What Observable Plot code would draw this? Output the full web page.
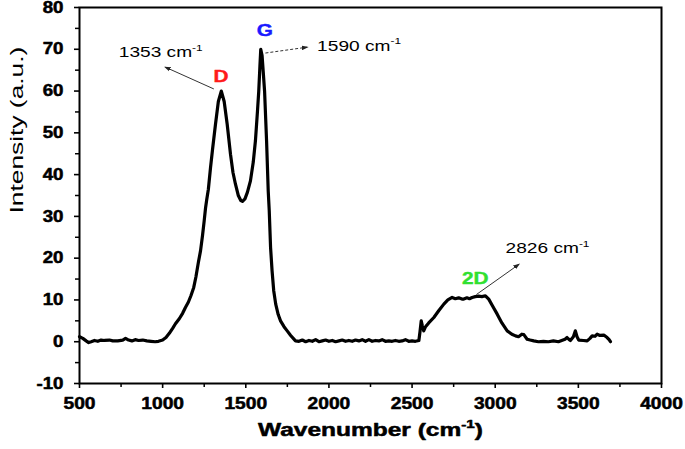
<!DOCTYPE html>
<html><head><meta charset="utf-8">
<script src="https://cdn.jsdelivr.net/npm/d3@7"></script>
<script src="https://cdn.jsdelivr.net/npm/@observablehq/plot@0.6"></script>
<style>body{margin:0;background:#fff}</style>
</head><body><div id="chart"></div>
<script>
// Raman spectrum
const wavenumber = [500,520,540,555,570,590,610,630,650,680,700,730,760,777,795,815,835,855,880,905,930,955,975,1000,1020,1040,1060,1077,1100,1120,1137,1155,1170,1187,1200,1215,1228,1240,1250,1258,1265,1275,1288,1300,1318,1335,1353,1370,1388,1408,1423,1438,1455,1470,1480,1495,1510,1528,1545,1558,1570,1578,1585,1590,1598,1606,1613,1625,1635,1641,1649,1658,1668,1680,1695,1709,1730,1749,1770,1799,1820,1840,1860,1880,1900,1920,1940,1960,1980,2000,2020,2040,2060,2080,2100,2120,2140,2160,2180,2200,2220,2240,2260,2280,2300,2320,2340,2360,2380,2400,2420,2440,2460,2480,2500,2520,2541,2548,2555,2562,2570,2581,2600,2631,2660,2691,2715,2741,2760,2780,2800,2811,2830,2845,2861,2880,2900,2920,2941,2961,2985,3012,3040,3072,3100,3122,3140,3160,3172,3192,3210,3232,3260,3290,3320,3350,3380,3400,3420,3432,3445,3452,3470,3482,3492,3502,3530,3553,3570,3583,3600,3613,3630,3653,3673,3685,3693];
const intensity = [1.2,0.8,0.2,-0.2,0.0,0.3,0.1,0.4,0.3,0.4,0.2,0.2,0.4,0.8,0.4,0.2,0.5,0.3,0.4,0.2,0.1,0.0,0.1,0.4,1.0,2.0,3.2,4.3,5.5,6.8,8.2,9.5,11.0,13.0,15.5,19.0,21.8,25.5,29.0,32.0,34.0,36.5,41.7,46.0,52.1,57.5,60.0,57.5,52.1,44.9,40.5,37.7,35.0,33.8,33.6,34.2,35.8,38.5,43.0,48.1,55.0,60.0,66.0,70.0,68.5,64.0,60.0,48.1,36.0,31.4,22.6,17.0,12.2,9.0,6.5,5.0,3.6,2.6,1.5,0.2,0.1,0.4,0.0,0.3,0.1,0.5,0.0,0.2,0.4,0.1,0.3,0.0,0.2,0.4,0.1,0.3,0.1,0.4,0.2,0.5,0.1,0.5,0.1,0.3,0.2,0.5,0.1,0.2,0.1,0.3,0.1,0.2,0.5,0.1,0.2,0.1,0.3,2.5,5.0,3.8,2.6,3.6,4.5,5.8,7.4,9.0,10.0,10.6,10.3,10.5,10.2,10.2,10.5,10.3,10.6,10.8,10.9,10.8,11.0,10.2,8.5,6.6,4.5,2.6,1.8,1.4,1.2,1.8,1.7,0.6,0.4,0.2,0.0,0.1,0.0,0.2,0.0,0.3,0.6,1.0,0.5,0.3,1.2,2.6,1.2,0.4,0.3,0.2,0.8,1.4,1.3,1.8,1.5,1.6,1.0,0.5,0.0];

const xTicks = [500,1000,1500,2000,2500,3000,3500,4000];
const xMinor = [750,1250,1750,2250,2750,3250,3750];
const yTicks = [-10,0,10,20,30,40,50,60,70,80];
const yMinor = [-5,5,15,25,35,45,55,65,75];

const peakNames = ["D","G","2D"];
const peakNameX = [1351,1615,2880];
const peakNameY = [63.5,74.3,15.0];
const peakColors = ["#ff1a1a","#1a1aff","#30e030"];

const posLabels = ["1353 cm-1","1590 cm-1","2826 cm-1"];
const posLabelX = [736,1929,3062];
const posLabelY = [69.2,70.8,22.4];

const arrowX1 = [1308,1618,2887];
const arrowY1 = [60.5,69.1,11.3];
const arrowX2 = [1017,1869,3142];
const arrowY2 = [65.7,70.5,18.5];

const xLabel = "Wavenumber (cm-1)";
const yLabel = "Intensity (a.u.)";

const spectrum = wavenumber.map((x, i) => ({x, y: intensity[i]}));
const font = "'Liberation Sans', Arial, sans-serif";
const linkOpts = {x1: i => arrowX1[i], y1: i => arrowY1[i], x2: i => arrowX2[i], y2: i => arrowY2[i], stroke: "#333", strokeWidth: 1, markerEnd: "arrow"};

const plot = Plot.plot({
  width: 685, height: 449,
  marginLeft: 79, marginRight: 24, marginTop: 7, marginBottom: 66,
  style: {fontFamily: font, background: "#fff", color: "#000", overflow: "visible"},
  x: {domain: [500, 4000], label: null},
  y: {domain: [-10, 80], label: null},
  color: {type: "identity"},
  marks: [
    Plot.axisX(xMinor, {tickSize: 4, tickFormat: () => "", strokeWidth: 1.5, label: null}),
    Plot.axisX(xTicks, {tickSize: 5, tickPadding: 9, strokeWidth: 1.6, tickFormat: d => String(d), fontSize: 16, fontWeight: "bold", label: null}),
    Plot.axisY(yMinor, {tickSize: 4, tickFormat: () => "", strokeWidth: 1.5, label: null}),
    Plot.axisY(yTicks, {tickSize: 5, tickPadding: 11, strokeWidth: 1.6, tickFormat: d => String(d), fontSize: 16, fontWeight: "bold", label: null}),
    Plot.frame({strokeWidth: 2}),
    Plot.line(spectrum, {x: "x", y: "y", stroke: "#000", strokeWidth: 3.2, strokeLinejoin: "round"}),
    Plot.link([0, 2], linkOpts),
    Plot.link([1], {...linkOpts, strokeDasharray: "3,2"}),
    Plot.text(peakNames, {x: (d, i) => peakNameX[i], y: (d, i) => peakNameY[i], text: d => d, fill: (d, i) => peakColors[i], fontSize: 16, fontWeight: "bold"}),
    Plot.text(posLabels, {x: (d, i) => posLabelX[i], y: (d, i) => posLabelY[i], text: d => d, textAnchor: "start", fill: "#000", fontSize: 15}),
    Plot.text([xLabel], {frameAnchor: "bottom", dy: 52, text: d => d, fontSize: 18, fontWeight: "bold"}),
    Plot.text([yLabel], {frameAnchor: "left", dx: -62, dy: 18, rotate: -90, text: d => d, fontSize: 18, fontWeight: "normal"})
  ]
});
document.getElementById("chart").appendChild(plot);

// filled triangular arrow heads
plot.querySelectorAll("marker").forEach(m => {
  m.setAttribute("markerWidth", "10");
  m.setAttribute("markerHeight", "10");
  m.setAttribute("viewBox", "-5 -5 10 10");
  m.querySelectorAll("path").forEach(p => {
    p.setAttribute("d", "M-6,-2.6L1.5,0L-6,2.6Z");
    p.setAttribute("fill", "#222");
    p.setAttribute("stroke", "none");
    p.setAttribute("stroke-dasharray", "none");
  });
});

const ns = "http://www.w3.org/2000/svg";
function sup(el) {
  const t = el.textContent;
  const m = t.indexOf("cm-1");
  if (m < 0) return;
  const fs = parseFloat(getComputedStyle(el).fontSize);
  const before = t.slice(0, m + 2), after = t.slice(m + 4);
  el.textContent = "";
  const a = document.createElementNS(ns, "tspan"); a.textContent = before; el.appendChild(a);
  const b = document.createElementNS(ns, "tspan"); b.textContent = "-1";
  b.setAttribute("font-size", (fs * 0.62).toFixed(1)); b.setAttribute("dy", (-fs * 0.42).toFixed(1)); el.appendChild(b);
  if (after) {
    const c = document.createElementNS(ns, "tspan"); c.textContent = after;
    c.setAttribute("dy", (fs * 0.42).toFixed(1)); el.appendChild(c);
  }
}
// widen text along its own direction (the reference text is stretched)
function widen(el, target) {
  const len = el.getBBox().width;
  if (!len) return;
  const k = target(len) / len;
  const tr = el.getAttribute("transform") || "";
  el.setAttribute("transform", tr + ` scale(${k.toFixed(3)},1)`);
}
function heavy(el, w) {
  el.setAttribute("stroke", el.getAttribute("fill") || "currentColor");
  el.setAttribute("stroke-width", w);
  el.setAttribute("stroke-linejoin", "round");
}
const texts = Array.from(plot.querySelectorAll("text"));
texts.forEach(sup);
texts.forEach(el => {
  const t = el.textContent.trim();
  if (!t) return;
  const g = el.closest("g[aria-label]");
  const lab = g ? g.getAttribute("aria-label") : "";
  if (/^-?\d+$/.test(t)) {
    el.setAttribute("font-weight", "bold");
    heavy(el, 0.5);
    widen(el, w => w * (lab.startsWith("y") ? 1.17 : 1.2));
  } else if (t.startsWith("Wavenumber")) {
    heavy(el, 0.5);
    widen(el, () => 225);
  } else if (t.startsWith("Intensity")) {
    widen(el, () => 167);
  } else if (/cm-1$/.test(t)) {
    widen(el, () => 84);
  } else if (peakNames.includes(t)) {
    heavy(el, 0.4);
    widen(el, w => w * 1.3);
  }
});
</script>
</body></html>
